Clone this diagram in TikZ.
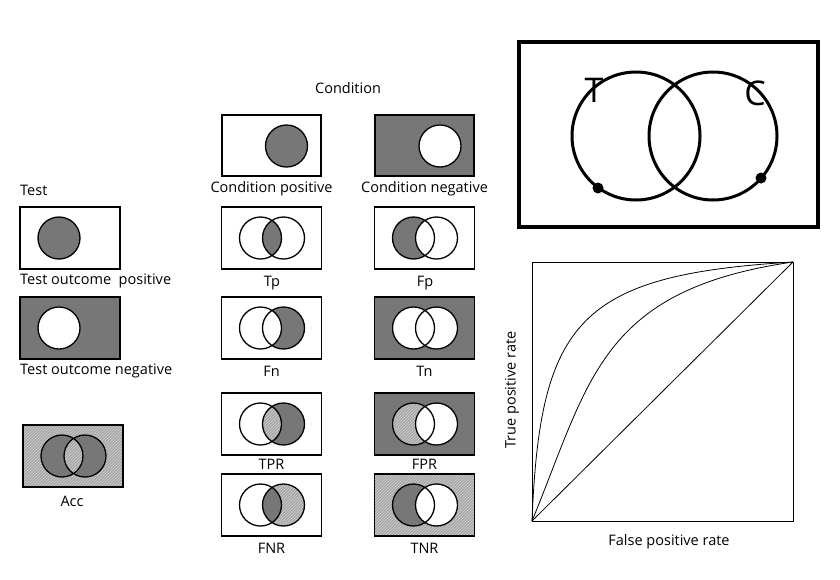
\documentclass[tikz,border=0pt]{standalone}
\usepackage{fontspec}
\setmainfont{Open Sans}
\usetikzlibrary{patterns}
\definecolor{dk}{HTML}{777777}
\tikzset{
 dkf/.style={fill=dk},
 wtf/.style={fill=white},
 hzf/.style={fill=gray!70,postaction={pattern=north east lines,pattern color=gray!35}},
 lab/.style={font=\fontsize{14.5}{16}\selectfont,inner sep=1pt},
 ln/.style={line width=1.3pt},
}
\newcommand\vennbox[6]{%
 \path[#3] (#1-50,#2-31) rectangle (#1+50,#2+31);
 \path[#4] (#1-11,#2) circle (21);
 \path[#5] (#1+12,#2) circle (21);
 \begin{scope}\clip (#1-11,#2) circle (21); \path[#6] (#1+12,#2) circle (21);\end{scope}
 \draw[ln] (#1-50,#2-31) rectangle (#1+50,#2+31);
 \draw[ln] (#1-11,#2) circle (21) (#1+12,#2) circle (21);
}
\begin{document}
\begin{tikzpicture}[x=1pt,y=-1pt]
\useasboundingbox[fill=white] (0,0) rectangle (840,579);
% single circle boxes
\draw[ln,fill=white] (222,115) rectangle (321,176);
\draw[ln,fill=dk] (286.5,146) circle (21);
\draw[ln,fill=dk] (375,115) rectangle (474,176);
\draw[ln,fill=white] (440,146) circle (21);
\draw[ln,fill=white] (20,207) rectangle (120,269);
\draw[ln,fill=dk] (59,238) circle (21);
\draw[ln,fill=dk] (20,297) rectangle (120,359);
\draw[ln,fill=white] (59,328) circle (21);
% two-circle boxes
\vennbox{271.5}{238}{wtf}{wtf}{wtf}{dkf}
\vennbox{424.5}{238}{wtf}{dkf}{wtf}{wtf}
\vennbox{271.5}{328}{wtf}{wtf}{dkf}{wtf}
\vennbox{424.5}{328}{dkf}{wtf}{wtf}{wtf}
\vennbox{271.5}{424}{wtf}{wtf}{dkf}{hzf}
\vennbox{424.5}{424}{dkf}{hzf}{wtf}{wtf}
\vennbox{271.5}{505}{wtf}{wtf}{hzf}{dkf}
\vennbox{424.5}{505}{hzf}{dkf}{wtf}{wtf}
\vennbox{73}{456}{hzf}{dkf}{dkf}{hzf}
% labels
\node[lab] (cond) at (348,88) {Condition};
\node[lab,anchor=west] (test) at (19,190) {Test};
\node[lab] (cp) at (271.5,189) {Condition positive};
\node[lab] (cn) at (424.5,189) {Condition negative};
\node[lab,anchor=west] (tpos) at (19,281) {Test outcome\ \ positive};
\node[lab,anchor=west] (tneg) at (19,371) {Test outcome negative};
\node[lab] (acc) at (72,501) {Acc};
\node[lab] (tp) at (272,283) {Tp};
\node[lab] (fp) at (425,283) {Fp};
\node[lab] (fn) at (271.5,371) {Fn};
\node[lab] (tn) at (424.5,371) {Tn};
\node[lab] (tpr) at (271.5,464) {TPR};
\node[lab] (fpr) at (424.5,464) {FPR};
\node[lab] (fnr) at (271.5,548) {FNR};
\node[lab] (tnr) at (424.5,548) {TNR};
% big venn
\draw[line width=3.5pt] (519,42) rectangle (818,227);
\draw[line width=3pt] (636,136) circle (64) (713,136) circle (64);
\fill (598,188) circle (5.5) (761,178) circle (5.5);
\node[font=\fontsize{34}{36}\selectfont] (T) at (594,90) {T};
\node[font=\fontsize{34}{36}\selectfont] (C) at (755,93) {C};
% ROC
\draw[line width=1pt] (532,262) rectangle (793,521);
\coordinate (o) at (532,521); \coordinate (e) at (793,262);
\draw[line width=0.8pt] (o) -- (e);
\draw[line width=0.8pt] (o) .. controls (540,320) and (580,275) .. (e);
\draw[line width=0.8pt] (o) .. controls (590,380) and (600,290) .. (e);
\node[lab,rotate=90] (yl) at (512,390) {True positive rate};
\node[lab] (xl) at (669,542) {False positive rate};
\end{tikzpicture}
\end{document}
